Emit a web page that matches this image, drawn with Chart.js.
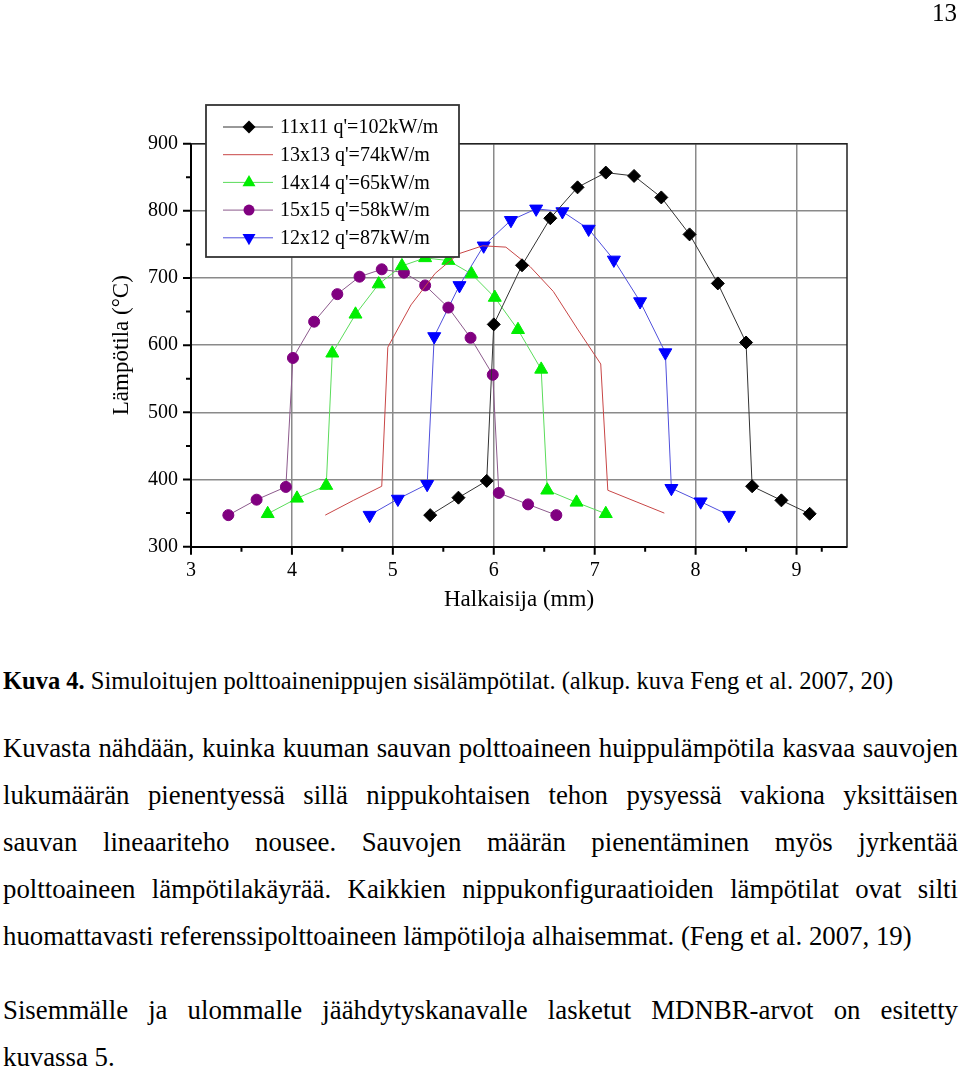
<!DOCTYPE html>
<html lang="fi">
<head>
<meta charset="utf-8">
<title>Kuva 4</title>
<script src="https://cdn.jsdelivr.net/npm/chart.js@4.4.1/dist/chart.umd.min.js"></script>
<style>
  html, body { margin: 0; padding: 0; background: #fff; }
  body { width: 960px; height: 1072px; position: relative; overflow: hidden;
         font-family: 'Liberation Serif', 'Times New Roman', serif; color: #000; }
  #chartBox { position: absolute; left: 0; top: 0; width: 960px; height: 640px; }
  .pn { position: absolute; right: 3px; top: -1px; font-size: 25px; line-height: 28px; }
  .cap { position: absolute; left: 3px; top: 667px; font-size: 24.5px; line-height: 28px; white-space: nowrap; }
  .ln { position: absolute; left: 3px; width: 955px; font-size: 26.8px; line-height: 30px; }
  .j { text-align: justify; text-align-last: justify; }
  .l { white-space: nowrap; }
</style>
</head>
<body>
<div id="chartBox"><canvas id="myChart" width="960" height="640"></canvas></div>

<div class="pn">13</div>
<div class="cap"><b>Kuva 4.</b> Simuloitujen polttoainenippujen sisälämpötilat. (alkup. kuva Feng et al. 2007, 20)</div>

<div class="ln j" style="top:733px">Kuvasta nähdään, kuinka kuuman sauvan polttoaineen huippulämpötila kasvaa sauvojen</div>
<div class="ln j" style="top:780px">lukumäärän pienentyessä sillä nippukohtaisen tehon pysyessä vakiona yksittäisen</div>
<div class="ln j" style="top:827px">sauvan lineaariteho nousee. Sauvojen määrän pienentäminen myös jyrkentää</div>
<div class="ln j" style="top:874px">polttoaineen lämpötilakäyrää. Kaikkien nippukonfiguraatioiden lämpötilat ovat silti</div>
<div class="ln l" style="top:921px">huomattavasti referenssipolttoaineen lämpötiloja alhaisemmat. (Feng et al. 2007, 19)</div>

<div class="ln j" style="top:995px">Sisemmälle ja ulommalle jäähdytyskanavalle lasketut MDNBR-arvot on esitetty</div>
<div class="ln l" style="top:1042px">kuvassa 5.</div>

<script>
// series labels (legend order)
const labels = ["11x11 q'=102kW/m", "13x13 q'=74kW/m", "14x14 q'=65kW/m", "15x15 q'=58kW/m", "12x12 q'=87kW/m"];

// diameter (mm) and temperature (°C)
const x11 = [5.37, 5.65, 5.93, 6.00, 6.28, 6.56, 6.83, 7.11, 7.39, 7.66, 7.94, 8.22, 8.50, 8.56, 8.85, 9.13];
const t11 = [347, 373, 398, 631, 719, 789, 835, 857, 852, 820, 765, 692, 604, 390, 369, 349];

const x13 = [4.33, 4.61, 4.89, 4.95, 5.18, 5.42, 5.65, 5.89, 6.12, 6.36, 6.59, 6.83, 7.06, 7.13, 7.41, 7.69];
const t13 = [347, 369, 390, 597, 660, 707, 736, 748, 746, 717, 680, 624, 572, 384, 367, 350];

const x14 = [3.76, 4.05, 4.34, 4.40, 4.63, 4.86, 5.09, 5.32, 5.55, 5.78, 6.01, 6.24, 6.47, 6.53, 6.82, 7.11];
const t14 = [349, 372, 391, 588, 646, 691, 718, 730, 726, 706, 671, 623, 564, 384, 366, 349];

const x15 = [3.37, 3.65, 3.94, 4.01, 4.22, 4.45, 4.67, 4.89, 5.11, 5.32, 5.55, 5.77, 5.99, 6.05, 6.34, 6.62];
const t15 = [347, 370, 389, 581, 635, 676, 702, 713, 708, 689, 656, 611, 556, 380, 363, 347];

const x12 = [4.77, 5.05, 5.34, 5.41, 5.66, 5.90, 6.17, 6.42, 6.68, 6.94, 7.19, 7.45, 7.70, 7.76, 8.05, 8.33];
const t12 = [347, 371, 393, 613, 689, 748, 786, 803, 799, 773, 727, 665, 589, 387, 367, 347];

// axis ticks
const xTicks = [3, 4, 5, 6, 7, 8, 9];
const yTicks = [300, 400, 500, 600, 700, 800, 900];

const serif = "'Liberation Serif', 'Times New Roman', serif";
Chart.defaults.font.family = serif;
Chart.defaults.color = '#000';

const pts = (xs, ys) => xs.map((x, i) => ({ x: x, y: ys[i] }));

function series(label, xs, ys, line, mark, style, radius, rotation) {
  return {
    label: label,
    data: pts(xs, ys),
    showLine: true,
    tension: 0,
    borderColor: line,
    borderWidth: 1,
    pointStyle: style,
    pointRadius: radius,
    pointRotation: rotation || 0,
    pointBackgroundColor: mark,
    pointBorderColor: mark,
    pointBorderWidth: 1,
    pointHoverRadius: radius
  };
}

// own marker drawing for the legend box
function marker(ctx, style, x, y, r, rot) {
  ctx.beginPath();
  if (style === 'circle') {
    ctx.arc(x, y, r, 0, Math.PI * 2);
  } else if (style === 'rectRot') {
    ctx.moveTo(x, y - r); ctx.lineTo(x + r, y); ctx.lineTo(x, y + r); ctx.lineTo(x - r, y);
  } else if (style === 'triangle') {
    const s = rot ? -1 : 1;
    for (let k = 0; k < 3; k++) {
      const a = k * 2 * Math.PI / 3;
      const px = x + Math.sin(a) * r, py = y - s * Math.cos(a) * r;
      if (k === 0) ctx.moveTo(px, py); else ctx.lineTo(px, py);
    }
  } else {
    return;
  }
  ctx.closePath();
  ctx.fill();
}

const extras = {
  id: 'extras',
  beforeDatasetsDraw(chart) {
    const { ctx, chartArea: a, scales: { x, y } } = chart;
    ctx.save();
    // top & right frame
    ctx.strokeStyle = '#222';
    ctx.lineWidth = 1.5;
    ctx.beginPath();
    ctx.moveTo(a.left, a.top); ctx.lineTo(a.right, a.top); ctx.lineTo(a.right, a.bottom);
    ctx.stroke();
    // tick marks, major and minor
    ctx.strokeStyle = '#000';
    ctx.lineWidth = 2;
    ctx.beginPath();
    for (let i = 0; i < yTicks.length; i++) {
      let py = y.getPixelForValue(yTicks[i]);
      ctx.moveTo(a.left - 8, py); ctx.lineTo(a.left, py);
      if (i < yTicks.length - 1) {
        py = y.getPixelForValue((yTicks[i] + yTicks[i + 1]) / 2);
        ctx.moveTo(a.left - 5, py); ctx.lineTo(a.left, py);
      }
    }
    const xs = xTicks.concat([x.max]);
    for (let i = 0; i < xs.length; i++) {
      let px = x.getPixelForValue(xs[i]);
      if (i < xTicks.length) {
        ctx.moveTo(px, a.bottom); ctx.lineTo(px, a.bottom + 8);
      }
      if (i < xs.length - 1) {
        px = x.getPixelForValue((xs[i] + xs[i + 1]) / 2);
        ctx.moveTo(px, a.bottom); ctx.lineTo(px, a.bottom + 5);
      }
    }
    ctx.stroke();
    ctx.restore();
  },
  afterDraw(chart) {
    const ctx = chart.ctx;
    ctx.save();
    // legend box
    const bx = 206, by = 105, bw = 253, bh = 152;
    ctx.fillStyle = '#fff';
    ctx.fillRect(bx, by, bw, bh);
    ctx.strokeStyle = '#333';
    ctx.lineWidth = 1.8;
    ctx.strokeRect(bx, by, bw, bh);
    ctx.font = '20px ' + serif;
    ctx.textBaseline = 'middle';
    chart.data.datasets.forEach((ds, i) => {
      const ry = 127 + i * 27.7;
      ctx.strokeStyle = ds.borderColor;
      ctx.lineWidth = 1;
      ctx.beginPath(); ctx.moveTo(223, ry); ctx.lineTo(273, ry); ctx.stroke();
      if (ds.pointRadius > 0) {
        ctx.fillStyle = ds.pointBackgroundColor;
        marker(ctx, ds.pointStyle, 249, ry, ds.pointRadius, ds.pointRotation);
      }
      ctx.fillStyle = '#000';
      ctx.fillText(ds.label, 280, ry + 1);
    });
    ctx.restore();
  }
};

const ctx = document.getElementById('myChart');
const myChart = new Chart(ctx, {
  type: 'scatter',
  data: {
    datasets: [
      series(labels[0], x11, t11, '#333', '#000', 'rectRot', 6.5),
      series(labels[1], x13, t13, 'rgb(200,70,70)', 'rgb(200,70,70)', false, 0),
      series(labels[2], x14, t14, 'rgb(90,220,90)', '#00ee00', 'triangle', 7.5),
      series(labels[3], x15, t15, 'rgb(140,90,140)', '#800080', 'circle', 5.5),
      series(labels[4], x12, t12, 'rgb(80,80,220)', '#0000ff', 'triangle', 7.5, 180)
    ]
  },
  options: {
    responsive: false,
    animation: false,
    devicePixelRatio: 1,
    layout: {
      padding: { left: 110.5, right: 113, top: 143.7, bottom: 28.5 }
    },
    scales: {
      x: {
        type: 'linear',
        min: 3,
        max: 9.5,
        afterBuildTicks: s => { s.ticks = xTicks.map(v => ({ value: v })); },
        afterFit: s => { s.height = 64.8; },
        border: { display: true, color: '#000', width: 2 },
        grid: { color: '#8a8a8a', lineWidth: 1.5, drawTicks: false },
        ticks: { padding: 12, font: { size: 20 }, color: '#000', maxRotation: 0 },
        title: {
          display: true,
          text: 'Halkaisija (mm)',
          font: { size: 23, lineHeight: 1 },
          padding: 0,
          color: '#000'
        }
      },
      y: {
        type: 'linear',
        min: 300,
        max: 900,
        afterBuildTicks: s => { s.ticks = yTicks.map(v => ({ value: v })); },
        afterFit: s => { s.width = 80.5; },
        border: { display: true, color: '#000', width: 2 },
        grid: { color: '#8a8a8a', lineWidth: 1.5, drawTicks: false },
        ticks: { padding: 13, font: { size: 20 }, color: '#000' },
        title: {
          display: true,
          text: 'Lämpötila (°C)',
          font: { size: 23, lineHeight: 1 },
          padding: 0,
          color: '#000'
        }
      }
    },
    plugins: {
      legend: { display: false },
      tooltip: { enabled: false }
    }
  },
  plugins: [extras]
});
</script>
</body>
</html>
